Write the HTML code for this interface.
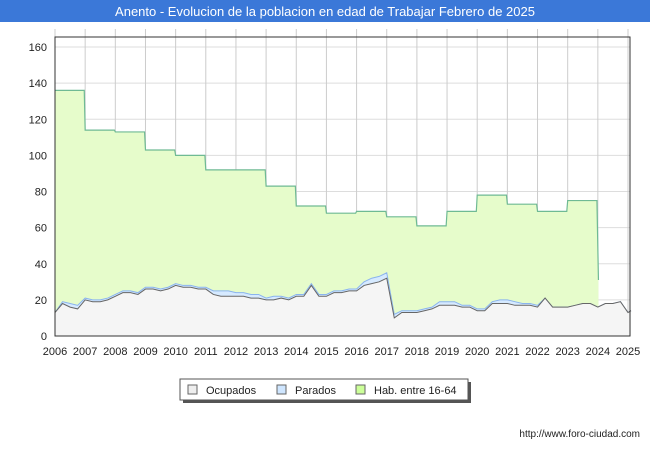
<!DOCTYPE html>
<html><head><meta charset="utf-8"><style>
body{margin:0;background:#fff;font-family:"Liberation Sans",sans-serif}
</style></head><body>
<svg id="c" width="650" height="450" xmlns="http://www.w3.org/2000/svg" font-family="Liberation Sans, sans-serif">
<rect x="0" y="0" width="650" height="450" fill="#fff"/>
<rect x="0" y="0" width="650" height="22" fill="#3b78d8"/>
<text x="325" y="16" text-anchor="middle" fill="#fff" font-size="13">Anento - Evolucion de la poblacion en edad de Trabajar Febrero de 2025</text>
<g id="grid"></g>
<g id="series"></g>
<g id="axes"></g>
<g>
<rect x="183" y="382" width="288" height="21" fill="#555"/>
<rect x="180" y="379" width="288" height="21" fill="#fff" stroke="#555"/>
<rect x="188" y="385" width="9" height="9" fill="#eee" stroke="#666"/>
<text x="206" y="394" font-size="11" fill="#222">Ocupados</text>
<rect x="277" y="385" width="9" height="9" fill="#cfe6ff" stroke="#666"/>
<text x="295" y="394" font-size="11" fill="#222">Parados</text>
<rect x="356" y="385" width="9" height="9" fill="#ccff99" stroke="#666"/>
<text x="374" y="394" font-size="11" fill="#222">Hab. entre 16-64</text>
</g>
<text x="640" y="437" text-anchor="end" font-size="10" fill="#222">http://www.foro-ciudad.com</text>
</svg>
<script>
const years=[2006,2007,2008,2009,2010,2011,2012,2013,2014,2015,2016,2017,2018,2019,2020,2021,2022,2023,2024,2025];
const yTicks=[0,20,40,60,80,100,120,140,160];
const habValues=[136,114,113,103,100,92,92,83,72,68,69,66,61,69,78,73,69,75];
const habLast=31;
// quarterly from 2006.0
const ocupados=[13,18,16,15,20,19,19,20,22,24,24,23,26,26,25,26,28,27,27,26,26,23,22,22,22,22,21,21,20,20,21,20,22,22,28,22,22,24,24,25,25,28,29,30,32,10,13,13,13,14,15,17,17,17,16,16,14,14,18,18,18,17,17,17,16,21,16,16,16,17,18,18,16,18,18,19,13,14];
const parados=[0,1,2,2,1,1,1,1,1,1,1,1,1,1,1,1,1,1,1,1,1,2,3,3,2,2,2,2,1,2,1,1,1,1,1,1,1,1,1,1,1,2,3,3,3,2,1,1,1,1,1,2,2,2,1,1,1,1,1,2,2,2,1,1,1,0,0,0,0,0,0,0,0,0,0,0,0,0];
const NS="http://www.w3.org/2000/svg";
const X0=55,X1=628,Y0=336,Y1=29,VMAX=170;
const xs=t=>X0+(t-2006)/(2025-2006)*(X1-X0);
const ys=v=>Y0-v/VMAX*(Y0-Y1);
function mk(tag,attrs,parent){const e=document.createElementNS(NS,tag);for(const k in attrs)e.setAttribute(k,attrs[k]);parent.appendChild(e);return e;}
const grid=document.getElementById('grid'),ser=document.getElementById('series'),ax=document.getElementById('axes');
yTicks.forEach(v=>{const l=mk('line',{x1:X0,x2:X1+2,y1:ys(v),y2:ys(v),stroke:'#ddd'},grid);


const t=mk('text',{x:X0-8,y:ys(v)+4,'text-anchor':'end','font-size':11,fill:'#222'},ax);t.textContent=v;

});
years.forEach(y=>{const l=mk('line',{x1:xs(y),x2:xs(y),y1:Y1,y2:Y0,stroke:'#ccc'},grid);


const t=mk('text',{x:xs(y),y:Y0+19,'text-anchor':'middle','font-size':11,fill:'#222'},ax);t.textContent=y;

});
// hab area
let hp=[];habValues.forEach((v,i)=>{hp.push([xs(2006+i),ys(v)],[xs(2006+i+0.97),ys(v)]);});
hp.push([xs(2024.02),ys(habLast)]);
const habLine=hp.map(p=>p.join(',')).join(' ');
const ha=mk('polygon',{points:xs(2006)+','+Y0+' '+habLine+' '+xs(2024.02)+','+Y0,fill:'#e6fccb'},ser);


const hl=mk('polyline',{points:habLine,fill:'none',stroke:'#6fba94','stroke-width':1.2},ser);


const tq=i=>2006+i*0.25;
const topP=ocupados.map((v,i)=>[xs(Math.min(tq(i),2025.1)),ys(v+parados[i])]);
const ocP=ocupados.map((v,i)=>[xs(Math.min(tq(i),2025.1)),ys(v)]);
const last=xs(Math.min(tq(ocupados.length-1),2025.1));
const pa=mk('polygon',{points:xs(2006)+','+Y0+' '+topP.map(p=>p.join(',')).join(' ')+' '+last+','+Y0,fill:'#d6eaff'},ser);


const pl=mk('polyline',{points:topP.map(p=>p.join(',')).join(' '),fill:'none',stroke:'#8ab4ee','stroke-width':1},ser);


const oa=mk('polygon',{points:xs(2006)+','+Y0+' '+ocP.map(p=>p.join(',')).join(' ')+' '+last+','+Y0,fill:'#f5f5f5'},ser);


const ol=mk('polyline',{points:ocP.map(p=>p.join(',')).join(' '),fill:'none',stroke:'#666','stroke-width':1},ser);


const fr=mk('rect',{x:X0,y:Y1+8,width:X1-X0+2,height:Y0-Y1-8,fill:'none',stroke:'#333'},ax);


</script>
</body></html>
